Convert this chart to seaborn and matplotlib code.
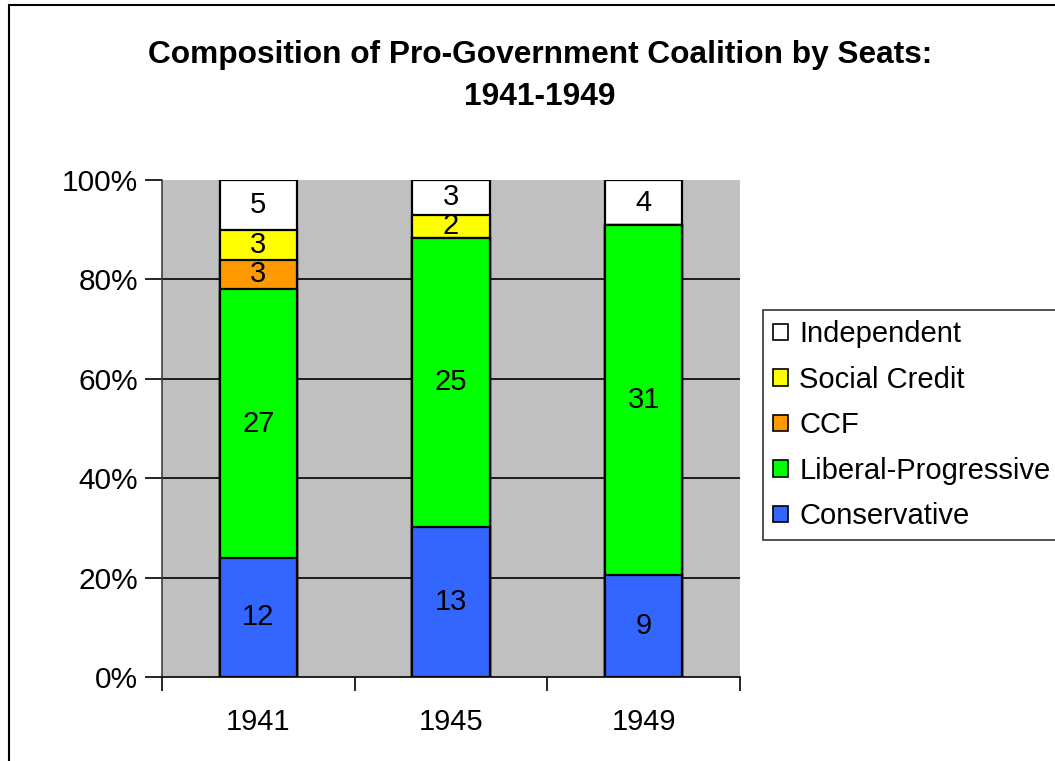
import numpy as np
import pandas as pd
import matplotlib
matplotlib.use('Agg')
import matplotlib.pyplot as plt
import seaborn as sns
from matplotlib.patches import Rectangle, Patch
from matplotlib.ticker import FixedLocator

# Dados (assentos por partido)
years = ['1941', '1945', '1949']
parties = ['Conservative', 'Liberal-Progressive', 'CCF', 'Social Credit', 'Independent']
conservative = [12, 13, 9]
liberal_progressive = [27, 25, 31]
ccf = [3, 0, 0]
social_credit = [3, 2, 0]
independent = [5, 3, 4]
colors = ['#3366FF', '#00FF00', '#FF9900', '#FFFF00', '#FFFFFF']

seats = pd.DataFrame({
    'Conservative': conservative,
    'Liberal-Progressive': liberal_progressive,
    'CCF': ccf,
    'Social Credit': social_credit,
    'Independent': independent,
}, index=years)

pct = seats.div(seats.sum(axis=1), axis=0) * 100
cum = pct.cumsum(axis=1)

sns.set_style('white')
plt.rcParams['font.family'] = ['Liberation Sans', 'DejaVu Sans']
plt.rcParams['text.color'] = 'black'
plt.rcParams['xtick.color'] = 'black'
plt.rcParams['ytick.color'] = 'black'
plt.rcParams['axes.labelcolor'] = 'black'

fig = plt.figure(figsize=(10.55, 7.61), dpi=100)
ax = fig.add_axes([162 / 1055, 1 - 677 / 761, (740 - 162) / 1055, (677 - 180) / 761])
ax.set_facecolor('#C0C0C0')

# Barras empilhadas: desenhar do topo para a base
for party, color in reversed(list(zip(parties, colors))):
    df = pd.DataFrame({'Year': years, 'Value': cum[party].values})
    sns.barplot(data=df, x='Year', y='Value', color=color, edgecolor='black',
                linewidth=1.6, width=0.4, saturation=1, ax=ax, zorder=3)

# Rótulos de valores
for i, y in enumerate(years):
    bottom = 0
    for party in parties:
        v = seats.loc[y, party]
        h = pct.loc[y, party]
        if v > 0:
            ax.text(i, bottom + h / 2, str(v), ha='center', va='center',
                    fontsize=21, color='black', zorder=5)
        bottom += h

ax.set_ylim(0, 100)
ax.set_xlim(-0.5, 2.5)
ax.set_yticks([0, 20, 40, 60, 80, 100])
ax.set_yticklabels(['0%', '20%', '40%', '60%', '80%', '100%'], fontsize=21.5)
ax.set_xticks(range(3))
ax.set_xticklabels(years, fontsize=21)
ax.xaxis.set_minor_locator(FixedLocator([-0.5, 0.5, 1.5, 2.5]))
ax.tick_params(axis='x', which='major', bottom=True, length=0, pad=22)
ax.tick_params(axis='x', which='minor', bottom=True, length=10, width=1.2,
               color='black', direction='out')
ax.tick_params(axis='y', which='major', left=True, length=12, width=1.2,
               color='black', direction='out', pad=5)
ax.set_xlabel('')
ax.set_ylabel('')

for yv in [20, 40, 60, 80]:
    ax.axhline(yv, color='black', linewidth=1.2, zorder=1)

for side in ['top', 'right']:
    ax.spines[side].set_visible(False)
ax.spines['left'].set_color('#404040')
ax.spines['left'].set_linewidth(1.2)
ax.spines['bottom'].set_color('black')
ax.spines['bottom'].set_linewidth(1.2)

# Título
fig.text(540 / 1055, 1 - 55 / 761, 'Composition of Pro-Government Coalition by Seats:',
         ha='center', va='center', fontsize=22.8, fontweight='bold')
fig.text(540 / 1055, 1 - 97 / 761, '1941-1949',
         ha='center', va='center', fontsize=22.8, fontweight='bold')

# Legenda
handles = [Patch(facecolor=c, edgecolor='black', linewidth=1.2, label=p)
           for p, c in reversed(list(zip(parties, colors)))]
leg = fig.legend(handles=handles, loc='upper left',
                 bbox_to_anchor=(763 / 1055, 1 - 310 / 761),
                 fontsize=21, frameon=True, fancybox=False, edgecolor='black',
                 handlelength=0.5, handleheight=0.5, handletextpad=0.4,
                 labelspacing=0.6, borderpad=0.35, borderaxespad=0)
leg.get_frame().set_linewidth(1.2)

# Moldura da figura
fig.patches.append(Rectangle((9 / 1055, -0.1), 1.2, 1 - 5 / 761 + 0.1,
                             transform=fig.transFigure, fill=False,
                             edgecolor='black', linewidth=1.5))

fig.savefig('out.png', dpi=100)
plt.close()
